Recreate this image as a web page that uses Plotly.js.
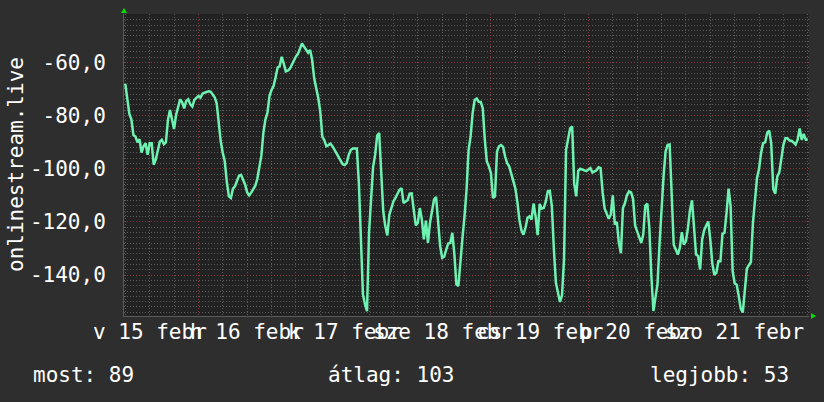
<!DOCTYPE html>
<html>
<head>
<meta charset="utf-8">
<script src="https://cdn.plot.ly/plotly-3.0.1.min.js"></script>
<style>
  html, body { margin: 0; padding: 0; background: #2e2e2e; }
  #chart { width: 824px; height: 402px; }
</style>
</head>
<body>
<div id="chart"></div>
<script>
// Half-hourly values, starting 2026-02-15 06:00
const seriesName = 'onlinestream.live';
const startTime = '2026-02-15T06:00:00Z';
const stepHours = 0.5;
const values = [
  -68.1, -73.5, -79.4, -81.4, -87.3, -87.9, -90.1, -88.9, -93.9, -91.6,
  -90.4, -94.8, -90.4, -90.4, -98.5, -96.6, -93.5, -89.8, -89.1, -90.8,
  -90.1, -81.6, -77.9, -82.3, -85.1, -79.8, -76.9, -73.9, -75.0, -77.3,
  -74.5, -73.9, -75.8, -76.6, -74.1, -73.5, -72.6, -73.3, -71.8, -71.4,
  -71.1, -70.9, -71.0, -71.9, -73.1, -75.4, -82.9, -89.8, -94.1, -97.3,
  -105.1, -110.4, -111.0, -107.5, -106.6, -104.4, -102.6, -102.3, -104.1, -106.0,
  -108.9, -110.0, -109.0, -107.9, -106.4, -103.8, -99.4, -95.1, -86.3, -81.4,
  -78.9, -72.6, -70.4, -68.9, -65.6, -61.9, -61.4, -57.9, -60.4, -63.4,
  -63.1, -62.4, -60.9, -59.1, -57.8, -56.8, -54.8, -52.9, -54.1, -55.3,
  -56.4, -55.3, -59.1, -66.0, -69.6, -73.4, -78.5, -87.9, -89.3, -91.5,
  -91.1, -90.6, -91.5, -92.9, -94.1, -95.4, -96.6, -98.3, -98.6, -97.9,
  -94.8, -93.0, -92.4, -92.3, -92.4, -105.4, -129.4, -147.3, -151.0, -153.6,
  -124.1, -110.4, -99.3, -94.8, -87.6, -86.6, -100.4, -116.0, -121.6, -125.1,
  -117.3, -115.0, -112.3, -111.0, -109.1, -107.9, -107.3, -112.9, -112.3, -111.8,
  -109.4, -109.3, -115.4, -121.3, -120.4, -114.8, -119.1, -126.6, -119.5, -127.9,
  -120.4, -116.6, -111.6, -110.6, -121.6, -129.1, -133.5, -133.1, -130.4, -128.1,
  -127.9, -124.1, -132.0, -143.5, -144.1, -133.5, -126.0, -117.9, -108.0, -93.1,
  -87.9, -79.1, -74.1, -73.6, -74.8, -74.9, -77.3, -89.1, -97.3, -99.1,
  -101.6, -111.0, -110.4, -93.5, -91.6, -91.1, -91.8, -95.4, -97.9, -99.1,
  -102.1, -104.1, -107.3, -112.3, -119.1, -123.1, -124.8, -122.3, -118.5, -117.9,
  -119.1, -113.1, -117.9, -125.0, -113.3, -115.0, -114.8, -112.4, -108.5, -108.3,
  -114.1, -130.4, -142.9, -146.6, -150.1, -147.6, -134.1, -92.9, -89.1, -84.8,
  -84.1, -105.6, -110.4, -100.8, -100.0, -100.4, -100.8, -100.9, -100.3, -99.8,
  -101.4, -101.1, -100.6, -99.5, -99.8, -108.9, -115.0, -116.9, -118.8, -117.3,
  -110.0, -121.0, -120.0, -127.9, -131.8, -114.8, -112.9, -109.9, -108.5, -108.9,
  -111.4, -121.4, -123.4, -125.4, -127.9, -124.8, -113.9, -113.1, -122.3, -140.4,
  -153.5, -148.5, -143.5, -128.5, -112.9, -102.9, -93.5, -91.0, -90.9, -107.3,
  -128.6, -130.4, -132.3, -129.8, -123.9, -128.5, -127.3, -122.3, -115.6, -111.9,
  -121.6, -132.3, -132.8, -137.9, -126.6, -123.1, -121.4, -119.9, -126.6, -135.6,
  -140.0, -139.1, -134.8, -134.8, -124.5, -124.1, -116.6, -107.5, -114.0, -138.5,
  -143.1, -143.6, -147.9, -152.6, -154.1, -146.4, -137.6, -136.3, -135.1, -120.4,
  -110.1, -103.5, -100.1, -94.1, -90.4, -90.1, -86.6, -85.6, -90.4, -107.6,
  -109.4, -102.9, -101.4, -97.0, -91.0, -88.5, -88.5, -89.4, -89.5, -90.1,
  -90.9, -89.1, -84.9, -89.1, -86.9, -89.1, -89.0
];

// Day labels (placed at noon of each day)
const dayLabelDates = ['2026-02-15 12:00', '2026-02-16 12:00', '2026-02-17 12:00', '2026-02-18 12:00',
                       '2026-02-19 12:00', '2026-02-20 12:00', '2026-02-21 12:00'];
const dayLabels = ['v 15 febr', 'h 16 febr', 'k 17 febr', 'sze 18 febr', 'cs 19 febr', 'p 20 febr', 'szo 21 febr'];

// Y ticks
const yTickVals = [-140, -120, -100, -80, -60];
const yTickLabels = ['-140,0', '-120,0', '-100,0', '-80,0', '-60,0'];

// Summary line
const summaryLabels = ['most', 'átlag', 'legjobb'];
const summaryValues = [89, 103, 53];

const xRange = ['2026-02-15 05:41', '2026-02-22 06:18'];
const yRange = [-155.4, -41.8];

const t0 = Date.parse(startTime);
const xs = values.map((_, i) => {
  const d = new Date(t0 + i * stepHours * 3600000);
  return d.toISOString().replace('T', ' ').slice(0, 16);
});

const FONT = 'DejaVu Sans Mono, monospace';
const FS = 21;
const W = 824, H = 402, L = 124, R = 15, T = 14, B = 86;
const pw = W - L - R, ph = H - T - B;
const px2paperX = p => (p - L) / pw;
const px2paperY = p => (H - B - p) / ph;

const annotations = [];
annotations.push({
  text: seriesName, xref: 'paper', yref: 'paper', x: px2paperX(16), y: px2paperY(165),
  xanchor: 'center', yanchor: 'middle', textangle: -90, showarrow: false,
  font: { family: FONT, size: FS, color: '#ffffff' }
});
dayLabels.forEach((t, i) => {
  annotations.push({
    text: t, xref: 'x', yref: 'paper', x: dayLabelDates[i], y: px2paperY(332),
    xanchor: 'center', yanchor: 'middle', showarrow: false,
    font: { family: FONT, size: FS, color: '#ffffff' }
  });
});
const summaryX = [31, 326, 648];
summaryLabels.forEach((t, i) => {
  annotations.push({
    text: t + ': ' + summaryValues[i], xref: 'paper', yref: 'paper',
    x: px2paperX(summaryX[i]), y: px2paperY(375),
    xanchor: 'left', yanchor: 'middle', showarrow: false,
    font: { family: FONT, size: FS, color: '#ffffff' }
  });
});

const shapes = [
  { type: 'path', xref: 'paper', yref: 'paper', xsizemode: 'pixel', ysizemode: 'pixel',
    xanchor: 0, yanchor: 1, path: 'M -3,1 L 3,1 L 0,6 Z',
    fillcolor: '#00e000', line: { width: 0 } },
  { type: 'path', xref: 'paper', yref: 'paper', xsizemode: 'pixel', ysizemode: 'pixel',
    xanchor: 1, yanchor: 0, path: 'M 2,3 L 2,-3 L 7,0 Z',
    fillcolor: '#00e000', line: { width: 0 } }
];

const trace = {
  x: xs, y: values, type: 'scatter', mode: 'lines',
  line: { color: 'rgb(110,242,178)', width: 2.5 },
  hoverinfo: 'skip', showlegend: false
};

const layout = {
  width: W, height: H,
  margin: { l: L, r: R, t: T, b: B, pad: 0 },
  paper_bgcolor: '#2e2e2e',
  plot_bgcolor: '#222222',
  showlegend: false,
  xaxis: {
    type: 'date', range: xRange, fixedrange: true,
    showticklabels: false, ticks: '',
    tick0: '2026-02-15 00:00', dtick: 86400000,
    showgrid: true, gridcolor: '#8a3a3a', gridwidth: 1, griddash: '1px,2px',
    minor: { dtick: 21600000, tick0: '2026-02-15 00:00', showgrid: true,
             gridcolor: '#5c5c5c', gridwidth: 1, griddash: '1px,2px' },
    zeroline: false, showline: true, linecolor: '#5a5a5a', linewidth: 1
  },
  yaxis: {
    range: yRange, fixedrange: true,
    tickmode: 'array', tickvals: yTickVals, ticktext: yTickLabels,
    ticks: '', ticklabelstandoff: 13,
    tickfont: { family: FONT, size: FS, color: '#ffffff' },
    showgrid: true, gridcolor: '#8a3a3a', gridwidth: 1, griddash: '1px,2px',
    minor: { tickmode: 'linear', tick0: 0, dtick: 2, showgrid: true,
             gridcolor: '#5c5c5c', gridwidth: 1, griddash: '1px,2px' },
    zeroline: false, showline: true, linecolor: '#5a5a5a', linewidth: 1
  },
  annotations: annotations,
  shapes: shapes
};

Plotly.newPlot('chart', [trace], layout, { staticPlot: true, displayModeBar: false });
</script>
</body>
</html>
